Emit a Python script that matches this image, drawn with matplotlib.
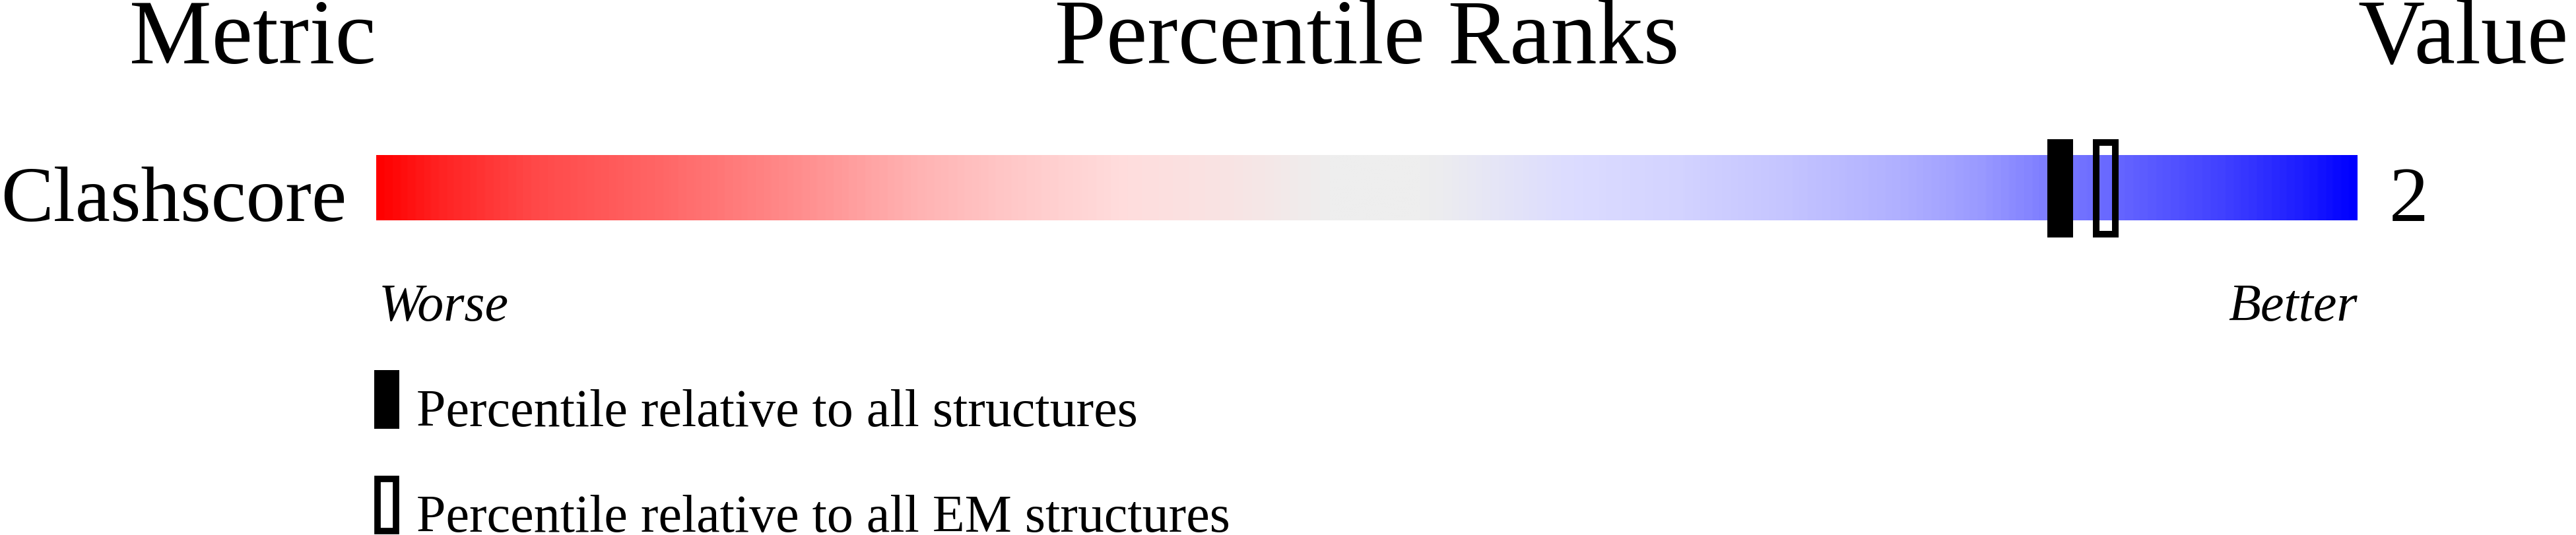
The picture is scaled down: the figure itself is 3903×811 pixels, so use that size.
import matplotlib
matplotlib.use("Agg")
import matplotlib.pyplot as plt
import numpy as np
from matplotlib.colors import LinearSegmentedColormap
from matplotlib.patches import Rectangle

plt.rcParams['font.family'] = ['Liberation Serif', 'DejaVu Serif']

# data
metric_names = ["Clashscore"]
metric_values = ["2"]
pct_all = [85.0]      # percentile relative to all structures
pct_em = [87.3]       # percentile relative to all EM structures
legend_labels = ["Percentile relative to all structures",
                 "Percentile relative to all EM structures"]

# slider gradient (position 0..1, colour)
grad_pos = [0.0, 0.03, 0.077, 0.142, 0.207, 0.271, 0.32, 0.378, 0.433, 0.48,
            0.529, 0.604, 0.659, 0.714, 0.77, 0.811, 0.846, 0.88, 0.935, 0.977, 1.0]
grad_col = ["#FF0000", "#FF2222", "#FF4848", "#FF6666", "#FF8A8A", "#FFB2B2",
            "#FFC8C8", "#FFDDDD", "#F8E4E4", "#EEEEEE", "#EEEEEE", "#DCDCFF",
            "#D3D3FF", "#C4C4FF", "#B0B0FF", "#9A9AFF", "#7C7CFF", "#6666FF",
            "#4040FF", "#1A1AFF", "#0000FF"]

W, H = 3903, 812
fig = plt.figure(figsize=(W / 100, H / 100), dpi=100)

# full-figure axes in pixel units for the labels
bg = fig.add_axes([0, 0, 1, 1])
bg.set_xlim(0, W)
bg.set_ylim(H, 0)
bg.axis("off")

bar_x0, bar_x1 = 570, 3572
bar_top, bar_bot = 236, 335

title_fs = 101
row_fs = 86
small_fs = 57.6

bg.text(bar_x0, 96, "Metric", fontsize=title_fs, ha="right", va="baseline")
bg.text((bar_x0 + bar_x1) / 2, 96, "Percentile Ranks", fontsize=title_fs,
        ha="center", va="baseline")
bg.text(bar_x1, 96, "Value", fontsize=title_fs, ha="left", va="baseline")

bg.text(525, bar_bot, metric_names[0], fontsize=row_fs, ha="right", va="baseline")
bg.text(3620, bar_bot, metric_values[0], fontsize=row_fs, ha="left", va="baseline")

bg.text(bar_x0 + 4, 486, "Worse", fontsize=small_fs, style="italic",
        ha="left", va="baseline")
bg.text(bar_x1, 486, "Better", fontsize=small_fs, style="italic",
        ha="right", va="baseline")

# legend keys
bg.add_patch(Rectangle((567, 562), 38, 89, facecolor="black", edgecolor="none"))
bg.add_patch(Rectangle((572, 727), 28, 79, facecolor="none", edgecolor="black",
                       linewidth=7))
bg.text(631, 646, legend_labels[0], fontsize=small_fs, ha="left", va="baseline")
bg.text(631, 806, legend_labels[1], fontsize=small_fs, ha="left", va="baseline")

# slider axes: x in percentile units
ax = fig.add_axes([bar_x0 / W, 1 - bar_bot / H, (bar_x1 - bar_x0) / W,
                   (bar_bot - bar_top) / H])
ax.patch.set_visible(False)
ax.axis("off")
ax.set_xlim(0, 100)
ax.set_ylim(0, 1)

cmap = LinearSegmentedColormap.from_list("slider", list(zip(grad_pos, grad_col)))
ax.imshow(np.linspace(0, 1, 1200)[np.newaxis, :], cmap=cmap, aspect="auto",
          extent=(0, 100, 0, 1), interpolation="bilinear")

px = 100 / (bar_x1 - bar_x0)   # one pixel in percentile units

for p in pct_all:
    ax.bar(p, 1.505, width=39 * px, bottom=-0.263, color="black",
           clip_on=False, zorder=3)
for p in pct_em:
    ax.bar(p, 1.412, width=29 * px, bottom=-0.217, fill=False,
           edgecolor="black", linewidth=7.2, clip_on=False, zorder=3)

fig.savefig("out.png", dpi=100)
